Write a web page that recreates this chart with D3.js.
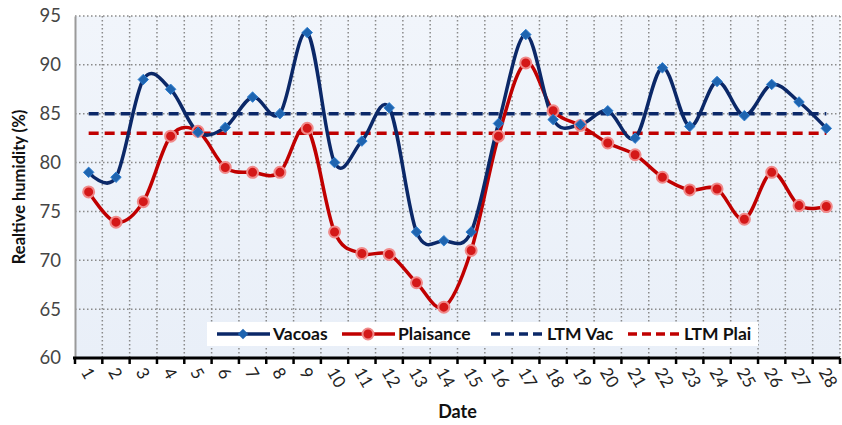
<!DOCTYPE html>
<html>
<head>
<meta charset="utf-8">
<script src="https://cdn.jsdelivr.net/npm/d3@7"></script>
<style>
  body { margin: 0; background: #fff; }
  svg { display: block; font-family: Lato, "Open Sans", sans-serif; }
</style>
</head>
<body>
<script>
const width = 842;
const height = 425;
const margin = { top: 16, right: 2, bottom: 67, left: 75 };

const dates = d3.range(1, 29).map(String);
const vacoas = [79.0, 78.5, 88.5, 87.5, 83.1, 83.6, 86.7, 85.0, 93.3, 80.0,
  82.2, 85.6, 72.9, 72.0, 72.9, 84.0, 93.1, 84.4, 83.9, 85.3,
  82.5, 89.7, 83.7, 88.3, 84.8, 88.0, 86.2, 83.5];
const plaisance = [77.0, 73.9, 76.0, 82.7, 83.2, 79.5, 79.0, 79.0, 83.5, 72.9,
  70.7, 70.6, 67.7, 65.2, 71.0, 82.7, 90.2, 85.3, 83.8, 82.0,
  80.8, 78.5, 77.2, 77.3, 74.2, 79.0, 75.6, 75.5];
const ltmVac = 85;
const ltmPlai = 83;
const yTicks = [60, 65, 70, 75, 80, 85, 90, 95];

const navy = '#0b2868';
const red = '#c00000';

const svg = d3.select('body')
  .append('svg')
    .attr('width', width)
    .attr('height', height);

const x = d3.scaleBand()
  .domain(dates)
  .range([margin.left, width - margin.right]);

const y = d3.scaleLinear()
  .domain([60, 95])
  .range([height - margin.bottom, margin.top]);

const cx = (d) => x(d) + x.bandwidth() / 2;

// plot background
const grad = svg.append('defs').append('linearGradient')
  .attr('id', 'bg').attr('x1', 0).attr('y1', 0).attr('x2', 0).attr('y2', 1);
grad.append('stop').attr('offset', '0%').attr('stop-color', '#f1f5fb');
grad.append('stop').attr('offset', '100%').attr('stop-color', '#e9eff8');

svg.append('rect')
  .attr('x', margin.left)
  .attr('y', margin.top)
  .attr('width', width - margin.left - margin.right)
  .attr('height', height - margin.top - margin.bottom)
  .attr('fill', 'url(#bg)');

// grid
const grid = svg.append('g')
  .attr('stroke', '#8a8a8a')
  .attr('stroke-width', 1.5)
  .attr('stroke-dasharray', '1.5,2.5');

grid.selectAll('line.h')
  .data(yTicks.slice(1))
  .join('line')
    .attr('x1', margin.left)
    .attr('x2', width - margin.right)
    .attr('y1', (d) => y(d))
    .attr('y2', (d) => y(d));

grid.selectAll('line.v')
  .data(dates.map((d) => x(d) + x.bandwidth()))
  .join('line')
    .attr('x1', (d) => d)
    .attr('x2', (d) => d)
    .attr('y1', y(95))
    .attr('y2', y(60));

// y axis
const yAxis = svg.append('g')
  .attr('transform', `translate(${margin.left},0)`)
  .call(d3.axisLeft(y).tickValues(yTicks).tickSize(0).tickPadding(14));

yAxis.select('.domain').attr('stroke', '#9a9a9a').attr('stroke-width', 2);
yAxis.selectAll('text')
  .attr('font-size', 18.5)
  .attr('fill', '#454545')
  .attr('font-family', 'Lato, sans-serif');

svg.append('text')
  .attr('transform', `translate(25,${(y(60) + y(95)) / 2}) rotate(-90)`)
  .attr('text-anchor', 'middle')
  .attr('font-size', 16.5)
  .attr('font-weight', 'bold')
  .attr('fill', '#111')
  .text('Realtive humidity (%)');

// LTM dashed lines
const ltm = [
  { value: ltmVac, color: navy },
  { value: ltmPlai, color: red },
];

svg.selectAll('line.ltm')
  .data(ltm)
  .join('line')
    .attr('class', 'ltm')
    .attr('x1', cx(dates[0]))
    .attr('x2', cx(dates[dates.length - 1]))
    .attr('y1', (d) => y(d.value))
    .attr('y2', (d) => y(d.value))
    .attr('stroke', (d) => d.color)
    .attr('stroke-width', 3.5)
    .attr('stroke-dasharray', '10,6');

// series
const line = d3.line()
  .x((d, i) => cx(dates[i]))
  .y((d) => y(d))
  .curve(d3.curveCardinal.tension(0));

svg.append('path')
  .attr('d', line(plaisance))
  .attr('fill', 'none')
  .attr('stroke', red)
  .attr('stroke-width', 3.5);

svg.append('path')
  .attr('d', line(vacoas))
  .attr('fill', 'none')
  .attr('stroke', navy)
  .attr('stroke-width', 3.5);

svg.selectAll('circle.plai')
  .data(plaisance)
  .join('circle')
    .attr('class', 'plai')
    .attr('cx', (d, i) => cx(dates[i]))
    .attr('cy', (d) => y(d))
    .attr('r', 5.5)
    .attr('fill', '#d41818')
    .attr('stroke', '#f08a8a')
    .attr('stroke-width', 2);

const diamond = d3.symbol().type(d3.symbolDiamond2).size(70);

svg.selectAll('path.vac')
  .data(vacoas)
  .join('path')
    .attr('class', 'vac')
    .attr('d', diamond)
    .attr('transform', (d, i) => `translate(${cx(dates[i])},${y(d)})`)
    .attr('fill', '#1e64b0')
    .attr('stroke', '#2f7fcf')
    .attr('stroke-width', 1);

// legend
const legend = svg.append('g');
legend.append('rect')
  .attr('x', 207).attr('y', 322)
  .attr('width', 551).attr('height', 24)
  .attr('fill', '#fff');

const items = [
  { label: 'Vacoas', color: navy, x: 217, kind: 'diamond' },
  { label: 'Plaisance', color: red, x: 342, kind: 'circle' },
  { label: 'LTM Vac', color: navy, x: 491, kind: 'dash' },
  { label: 'LTM Plai', color: red, x: 628, kind: 'dash' },
];

const item = legend.selectAll('g.item')
  .data(items)
  .join('g')
    .attr('transform', (d) => `translate(${d.x},334)`);

item.append('line')
  .attr('x1', 0).attr('x2', 53)
  .attr('stroke', (d) => d.color)
  .attr('stroke-width', 3.5)
  .attr('stroke-dasharray', (d) => d.kind === 'dash' ? '9,5' : null);

item.filter((d) => d.kind === 'diamond')
  .append('path')
    .attr('d', diamond)
    .attr('transform', 'translate(26,0)')
    .attr('fill', '#1e64b0');

item.filter((d) => d.kind === 'circle')
  .append('circle')
    .attr('cx', 26).attr('r', 5.5)
    .attr('fill', '#d41818')
    .attr('stroke', '#f08a8a')
    .attr('stroke-width', 2);

item.append('text')
  .attr('x', 56)
  .attr('dy', '0.36em')
  .attr('font-size', 17.5)
  .attr('font-weight', 'bold')
  .attr('fill', '#111')
  .text((d) => d.label);

// x axis
const xAxis = svg.append('g')
  .attr('transform', `translate(0,${y(60)})`);

xAxis.append('line')
  .attr('x1', margin.left - 2)
  .attr('x2', width - margin.right)
  .attr('stroke', '#000')
  .attr('stroke-width', 3);

xAxis.selectAll('line.tick')
  .data([margin.left].concat(dates.map((d) => x(d) + x.bandwidth())))
  .join('line')
    .attr('class', 'tick')
    .attr('x1', (d) => d)
    .attr('x2', (d) => d)
    .attr('y1', 0)
    .attr('y2', 6)
    .attr('stroke', '#000')
    .attr('stroke-width', 2.5);

xAxis.selectAll('text.lbl')
  .data(dates)
  .join('text')
    .attr('class', 'lbl')
    .attr('transform', (d) => `translate(${cx(d) - 3},${11}) rotate(60)`)
    .attr('dy', '0.35em')
    .attr('font-size', 17)
    .attr('fill', '#222')
    .text((d) => d);

svg.append('text')
  .attr('x', (x.range()[0] + x.range()[1]) / 2)
  .attr('y', 418)
  .attr('text-anchor', 'middle')
  .attr('font-size', 18)
  .attr('font-weight', 'bold')
  .attr('fill', '#111')
  .text('Date');
</script>
</body>
</html>
